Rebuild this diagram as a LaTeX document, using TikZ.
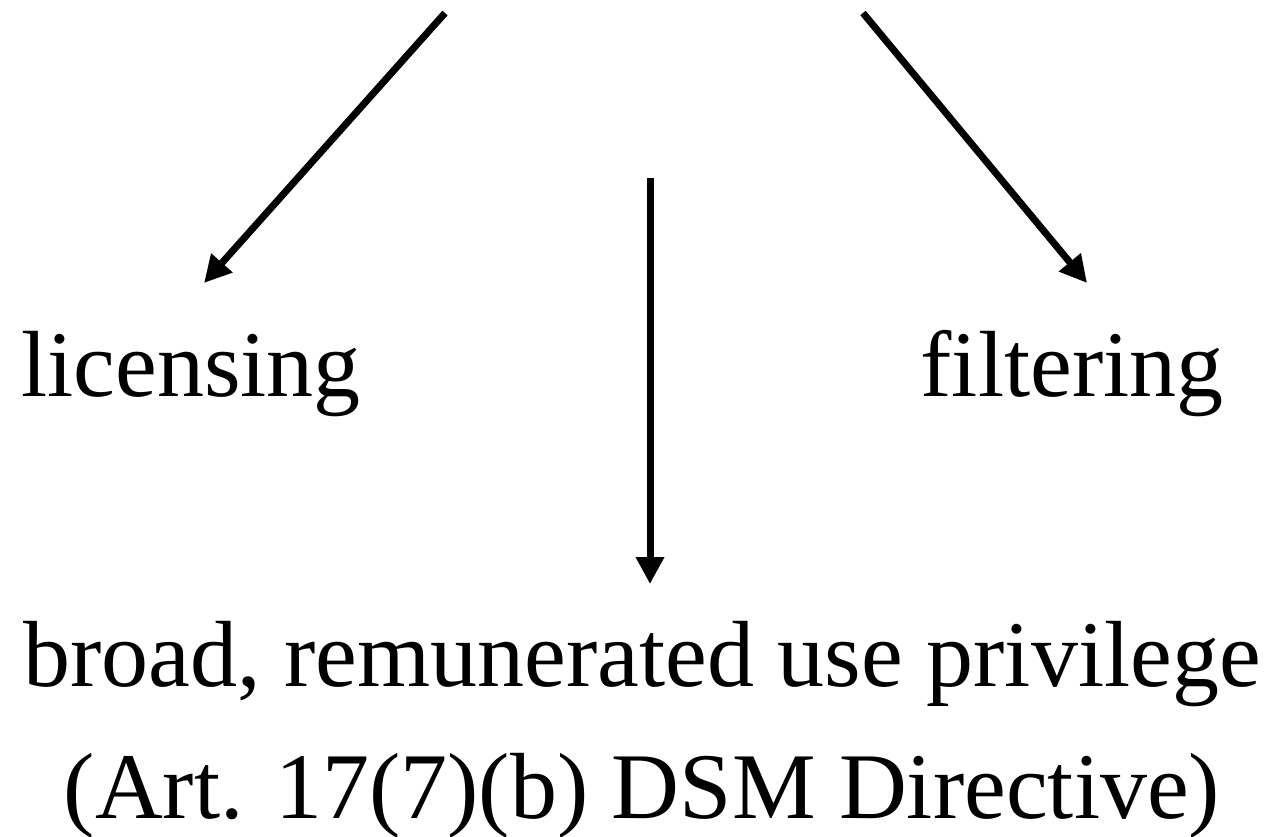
\documentclass[tikz,border=0pt]{standalone}
\usepackage{fontspec}
\setmainfont{Liberation Serif}
\usetikzlibrary{arrows.meta}
\begin{document}
\begin{tikzpicture}[x=1pt,y=-1pt,
  lbl/.style={font=\fontsize{94}{132}\selectfont, inner sep=0pt, anchor=base},
  arr/.style={line width=7pt, -{Triangle[length=27pt,width=27pt]}}]
\useasboundingbox (0,0) rectangle (1281,836);
\node[lbl] (lic) at (191,396) {licensing};
\node[lbl] (fil) at (1072,396) {filtering};
\node[lbl, align=center] (use) at (642,818) {broad, remunerated use privilege\\(Art. 17(7)(b) DSM Directive)};
\coordinate (ls) at (445,13);
\coordinate (lt) at (204,283);
\coordinate (ms) at (650,178);
\coordinate (mt) at (650,584);
\coordinate (rs) at (863,13);
\coordinate (rt) at (1087,283);
\draw[arr] (ls) -- (lt);
\draw[arr] (ms) -- (mt);
\draw[arr] (rs) -- (rt);
\end{tikzpicture}
\end{document}
